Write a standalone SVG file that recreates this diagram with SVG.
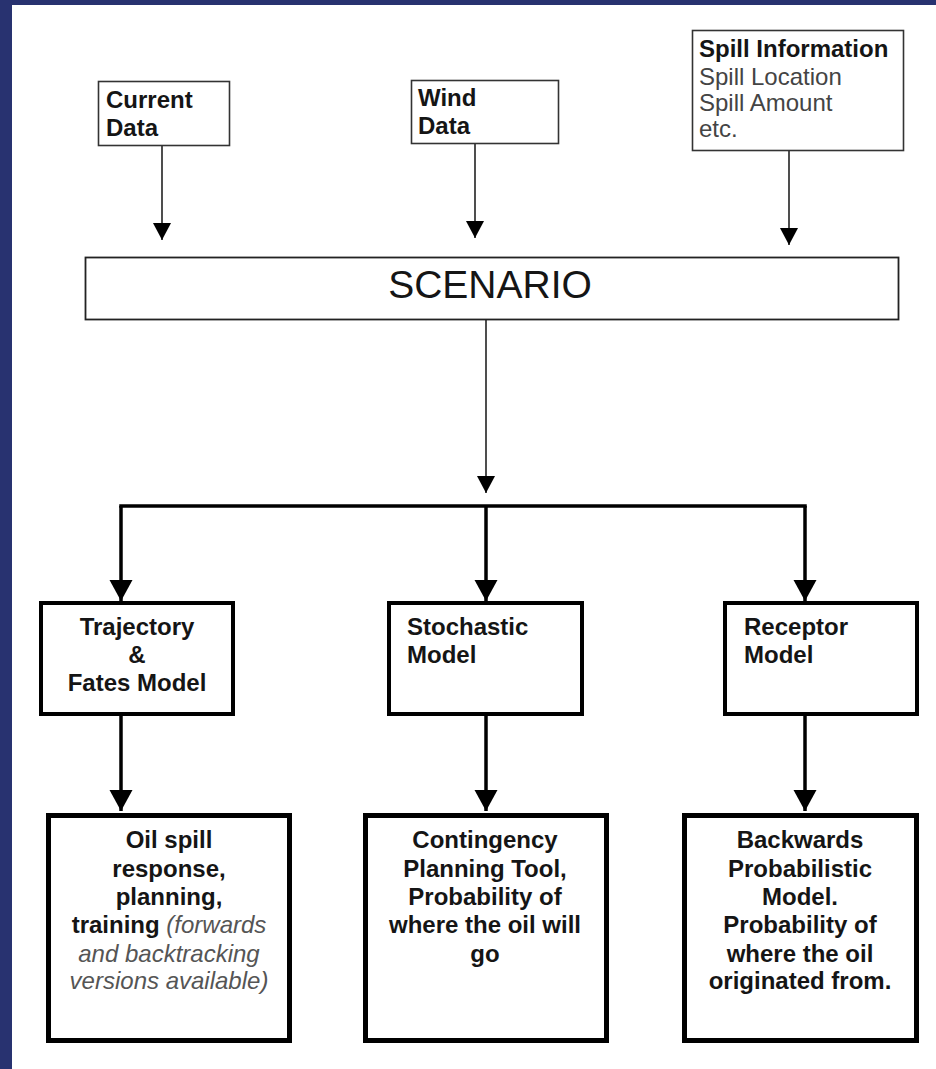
<svg xmlns="http://www.w3.org/2000/svg" width="936" height="1069" viewBox="0 0 936 1069">
  <style>
    .t { font-family: "Liberation Sans", Arial, sans-serif; font-size: 24px; fill: #151515; }
    .b { font-weight: bold; }
    .g { fill: #444; }
    .i { font-style: italic; fill: #555; font-weight: normal; }
    .thin { fill: #fff; stroke: #333; stroke-width: 1.6; }
    .mid { fill: #fff; stroke: #000; stroke-width: 4; }
    .low { fill: #fff; stroke: #000; stroke-width: 5; }
    .c1 { stroke: #222; stroke-width: 1.6; fill: none; }
    .c2 { stroke: #000; stroke-width: 3.5; fill: none; }
  </style>
  <defs>
    <marker id="ah1" markerUnits="userSpaceOnUse" markerWidth="18" markerHeight="18" refX="17" refY="9" orient="auto">
      <path d="M0,0 L17,9 L0,18 Z" fill="#000"/>
    </marker>
    <marker id="ah2" markerUnits="userSpaceOnUse" markerWidth="22" markerHeight="24" refX="21" refY="11.5" orient="auto">
      <path d="M0,0 L21,11.5 L0,23 Z" fill="#000"/>
    </marker>
  </defs>
  <rect x="0" y="0" width="936" height="1069" fill="#fff"/>
  <rect x="0" y="0" width="936" height="5" fill="#283270"/>
  <rect x="0" y="0" width="12" height="1069" fill="#283270"/>

  <g id="connectors">
    <line class="c1" x1="162" y1="146" x2="162" y2="240" marker-end="url(#ah1)"/>
    <line class="c1" x1="475" y1="144" x2="475" y2="238" marker-end="url(#ah1)"/>
    <line class="c1" x1="789" y1="150" x2="789" y2="245" marker-end="url(#ah1)"/>
    <line class="c1" x1="486" y1="319" x2="486" y2="493" marker-end="url(#ah1)"/>
    <line class="c2" x1="119.25" y1="506" x2="806.75" y2="506"/>
    <line class="c2" x1="121" y1="506" x2="121" y2="601" marker-end="url(#ah2)"/>
    <line class="c2" x1="486" y1="506" x2="486" y2="601" marker-end="url(#ah2)"/>
    <line class="c2" x1="805" y1="506" x2="805" y2="601" marker-end="url(#ah2)"/>
    <line class="c2" x1="121" y1="715" x2="121" y2="811" marker-end="url(#ah2)"/>
    <line class="c2" x1="486" y1="715" x2="486" y2="811" marker-end="url(#ah2)"/>
    <line class="c2" x1="805" y1="715" x2="805" y2="811" marker-end="url(#ah2)"/>
  </g>

  <g id="current">
    <rect class="thin" x="98.5" y="81.5" width="131" height="64"/>
    <text class="t b" x="106" y="108">Current</text>
    <text class="t b" x="106" y="136">Data</text>
  </g>
  <g id="wind">
    <rect class="thin" x="411.5" y="80.5" width="147" height="63"/>
    <text class="t b" x="418" y="106">Wind</text>
    <text class="t b" x="418" y="134">Data</text>
  </g>
  <g id="spill">
    <rect class="thin" x="692.5" y="30.5" width="211" height="120"/>
    <text class="t b" x="699" y="57">Spill Information</text>
    <text class="t g" x="699" y="85">Spill Location</text>
    <text class="t g" x="699" y="111">Spill Amount</text>
    <text class="t g" x="699" y="137">etc.</text>
  </g>
  <g id="scenario">
    <rect x="85.5" y="257.5" width="813" height="62" fill="#fff" stroke="#222" stroke-width="1.8"/>
    <text class="t" x="490" y="298" text-anchor="middle" style="font-size:39px">SCENARIO</text>
  </g>

  <g id="trajectory">
    <rect class="mid" x="41" y="603" width="192" height="111"/>
    <text class="t b" x="137" y="635" text-anchor="middle">Trajectory</text>
    <text class="t b" x="137" y="663" text-anchor="middle">&amp;</text>
    <text class="t b" x="137" y="691" text-anchor="middle">Fates Model</text>
  </g>
  <g id="stochastic">
    <rect class="mid" x="389" y="603" width="193" height="111"/>
    <text class="t b" x="407" y="635">Stochastic</text>
    <text class="t b" x="407" y="663">Model</text>
  </g>
  <g id="receptor">
    <rect class="mid" x="725" y="603" width="192" height="111"/>
    <text class="t b" x="744" y="635">Receptor</text>
    <text class="t b" x="744" y="663">Model</text>
  </g>

  <g id="oilspill">
    <rect class="low" x="48.5" y="815.5" width="241" height="225"/>
    <text class="t b" x="169" y="848" text-anchor="middle">Oil spill</text>
    <text class="t b" x="169" y="877" text-anchor="middle">response,</text>
    <text class="t b" x="169" y="905" text-anchor="middle">planning,</text>
    <text class="t b" x="169" y="933" text-anchor="middle">training <tspan class="i">(forwards</tspan></text>
    <text class="t i" x="169" y="962" text-anchor="middle">and backtracking</text>
    <text class="t i" x="169" y="989" text-anchor="middle">versions available)</text>
  </g>
  <g id="contingency">
    <rect class="low" x="365.5" y="815.5" width="241" height="225"/>
    <text class="t b" x="485" y="848" text-anchor="middle">Contingency</text>
    <text class="t b" x="485" y="877" text-anchor="middle">Planning Tool,</text>
    <text class="t b" x="485" y="905" text-anchor="middle">Probability of</text>
    <text class="t b" x="485" y="933" text-anchor="middle">where the oil will</text>
    <text class="t b" x="485" y="962" text-anchor="middle">go</text>
  </g>
  <g id="backwards">
    <rect class="low" x="684.5" y="815.5" width="232" height="225"/>
    <text class="t b" x="800" y="848" text-anchor="middle">Backwards</text>
    <text class="t b" x="800" y="877" text-anchor="middle">Probabilistic</text>
    <text class="t b" x="800" y="905" text-anchor="middle">Model.</text>
    <text class="t b" x="800" y="933" text-anchor="middle">Probability of</text>
    <text class="t b" x="800" y="962" text-anchor="middle">where the oil</text>
    <text class="t b" x="800" y="989" text-anchor="middle">originated from.</text>
  </g>
</svg>
